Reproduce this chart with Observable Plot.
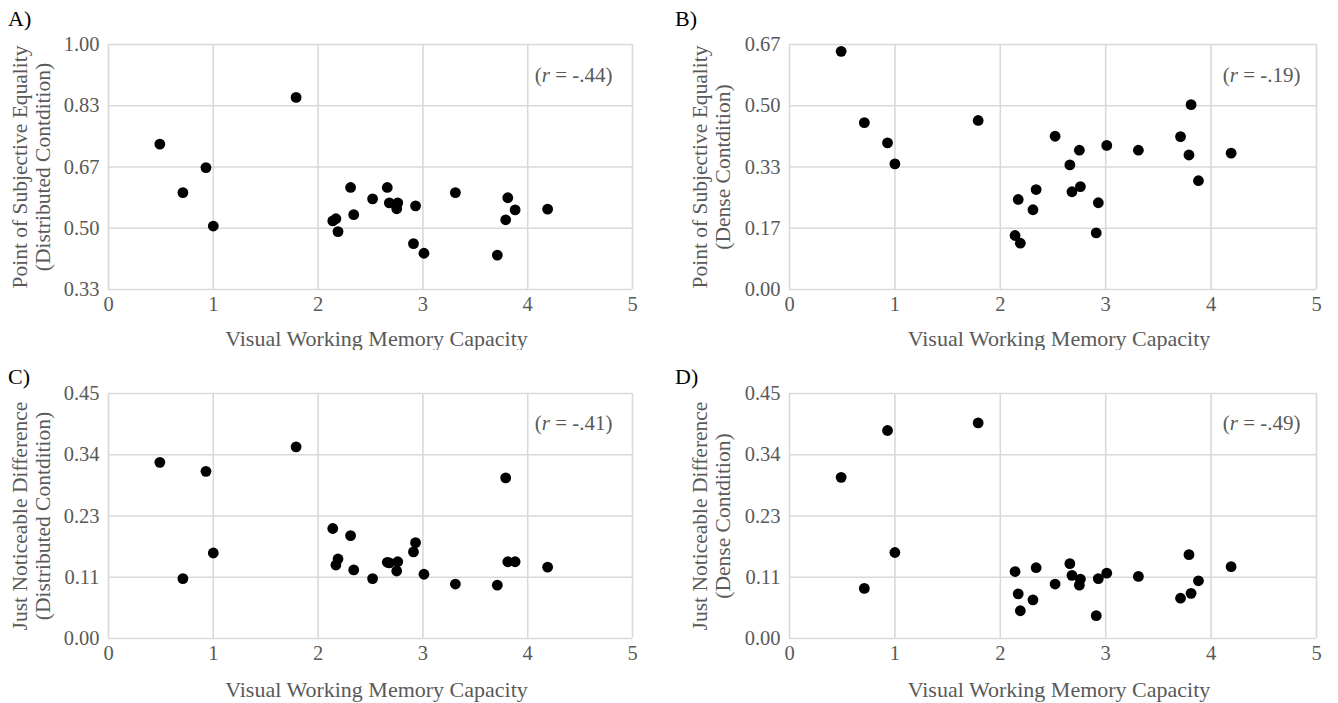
<!DOCTYPE html>
<html>
<head>
<meta charset="utf-8">
<script src="https://cdn.jsdelivr.net/npm/d3@7"></script>
<script src="https://cdn.jsdelivr.net/npm/@observablehq/plot@0.6"></script>
<style>
  body { margin: 0; background: #fff; }
  #wrap { position: relative; width: 1338px; height: 703px; background: #fff; overflow: hidden; }
  .panel { position: absolute; }
  .plabel { position: absolute; font-family: "Liberation Serif"; font-size: 22px; font-weight: normal; color: #000; line-height: 1.15; }
</style>
</head>
<body>
<div id="wrap"></div>
<script>
// ---- data ----
const capacity = [0.49, 0.71, 0.93, 1.00, 1.79, 2.14, 2.17, 2.19, 2.31, 2.34, 2.52, 2.66, 2.68, 2.75, 2.76, 2.91, 2.93, 3.01, 3.31, 3.71, 3.79, 3.81, 3.88, 4.19];
const pseDistributed = [0.729, 0.597, 0.665, 0.506, 0.856, 0.520, 0.526, 0.491, 0.611, 0.537, 0.580, 0.611, 0.569, 0.553, 0.569, 0.458, 0.561, 0.432, 0.597, 0.427, 0.523, 0.583, 0.550, 0.552];
const pseDense = [0.648, 0.454, 0.399, 0.342, 0.460, 0.147, 0.245, 0.126, 0.217, 0.272, 0.417, 0.339, 0.266, 0.379, 0.280, 0.154, 0.236, 0.392, 0.379, 0.416, 0.366, 0.503, 0.296, 0.371];
const jndDistributed = [0.3235, 0.110, 0.307, 0.157, 0.352, 0.202, 0.135, 0.146, 0.189, 0.126, 0.110, 0.140, 0.139, 0.124, 0.141, 0.159, 0.176, 0.118, 0.100, 0.098, 0.295, 0.141, 0.141, 0.131];
const jndDense = [0.296, 0.092, 0.382, 0.158, 0.396, 0.123, 0.082, 0.051, 0.071, 0.130, 0.100, 0.1375, 0.116, 0.098, 0.109, 0.042, 0.110, 0.120, 0.114, 0.074, 0.154, 0.083, 0.106, 0.132];

const xTicks = [0, 1, 2, 3, 4, 5];
const xTickLabels = ["0", "1", "2", "3", "4", "5"];
const pseDistTicks = [1/3, 1/2, 2/3, 5/6, 1];
const pseDistTickLabels = ["0.33", "0.50", "0.67", "0.83", "1.00"];
const pseDenseTicks = [0, 1/6, 1/3, 1/2, 2/3];
const pseDenseTickLabels = ["0.00", "0.17", "0.33", "0.50", "0.67"];
const jndTicks = [0, 0.1125, 0.225, 0.3375, 0.45];
const jndTickLabels = ["0.00", "0.11", "0.23", "0.34", "0.45"];

const xTitle = "Visual Working Memory Capacity";
const panelLetters = ["A)", "B)", "C)", "D)"];
const yTitles = [
  "Point of Subjective Equality\n(Distributed Contdition)",
  "Point of Subjective Equality\n(Dense Contdition)",
  "Just Noticeable Difference\n(Distributed Contdition)",
  "Just Noticeable Difference\n(Dense Contdition)"
];
const rValues = ["-.44", "-.19", "-.41", "-.49"];

// ---- drawing ----
const GRID = "#d9d9d9";
const TEXT = "#595959";
const FONT = "Liberation Serif";

function makePanel(cfg) {
  const data = capacity.map((x, i) => ({x, y: cfg.values[i]}));
  const fmtX = d => xTickLabels[xTicks.indexOf(d)];
  const fmtY = d => cfg.tickLabels[cfg.ticks.indexOf(d)];
  const svg = Plot.plot({
    width: cfg.width, height: cfg.height,
    marginLeft: cfg.ml, marginRight: cfg.mr, marginTop: cfg.mt, marginBottom: cfg.mb,
    style: {fontFamily: FONT, fontSize: "20px", color: TEXT, background: "white", overflow: "visible"},
    x: {domain: [0, 5]},
    y: {domain: [cfg.ticks[0], cfg.ticks[cfg.ticks.length - 1]]},
    marks: [
      Plot.gridX(xTicks, {stroke: GRID, strokeOpacity: 1, strokeWidth: 1.6}),
      Plot.gridY(cfg.ticks, {stroke: GRID, strokeOpacity: 1, strokeWidth: 1.6}),
      Plot.axisX(xTicks, {tickSize: 0, tickPadding: 7, tickFormat: fmtX, label: null, fill: TEXT, fontSize: 20.5}),
      Plot.axisY(cfg.ticks, {tickSize: 0, tickPadding: 9, tickFormat: fmtY, label: null, fill: TEXT, fontSize: 20.5}),
      Plot.dot(data, {x: "x", y: "y", r: 5.4, fill: "black", stroke: "none"}),
      Plot.text([cfg.yTitle], {text: d => d, frameAnchor: "left", rotate: -90, dx: cfg.yTitleDx, lineHeight: 1.05, textAnchor: "middle", lineAnchor: "middle", fill: TEXT, fontSize: 21.5, fontFamily: FONT}),
      Plot.text([xTitle], {text: d => d, frameAnchor: "bottom", dy: cfg.xTitleDy, dx: 6, textAnchor: "middle", lineAnchor: "middle", fill: TEXT, fontSize: 22, fontFamily: FONT}),
      Plot.text(["(r = " + cfg.r + ")"], {text: d => d, frameAnchor: "top-right", dx: cfg.rDx, dy: cfg.rDy, textAnchor: "end", lineAnchor: "middle", fill: TEXT, fontSize: 21, fontFamily: FONT})
    ]
  });
  // italicize the r
  d3.select(svg).selectAll("text").each(function() {
    const t = this.textContent;
    if (t.startsWith("(r = ")) {
      const el = d3.select(this);
      el.text(null);
      el.append("tspan").text("(");
      el.append("tspan").attr("font-style", "italic").text("r");
      el.append("tspan").text(t.slice(2));
    }
  });
  return svg;
}

const wrap = document.getElementById("wrap");
const panels = [
  {left: 0, top: 0, width: 669, height: 350, ml: 108, mr: 37, mt: 44, mb: 61, values: pseDistributed, ticks: pseDistTicks, tickLabels: pseDistTickLabels, yTitleDx: -77, xTitleDy: 49, rDx: -20, rDy: 31},
  {left: 669, top: 0, width: 669, height: 350, ml: 120, mr: 22, mt: 44, mb: 61, values: pseDense, ticks: pseDenseTicks, tickLabels: pseDenseTickLabels, yTitleDx: -78, xTitleDy: 49, rDx: -16, rDy: 31},
  {left: 0, top: 350, width: 669, height: 353, ml: 108, mr: 37, mt: 43, mb: 65, values: jndDistributed, ticks: jndTicks, tickLabels: jndTickLabels, yTitleDx: -77, xTitleDy: 51, rDx: -20, rDy: 30},
  {left: 669, top: 350, width: 669, height: 353, ml: 120, mr: 22, mt: 43, mb: 65, values: jndDense, ticks: jndTicks, tickLabels: jndTickLabels, yTitleDx: -78, xTitleDy: 51, rDx: -16, rDy: 30}
];
const labelPos = [[8, 6], [675, 6], [8, 364], [675, 364]];
panels.forEach((p, i) => {
  const div = document.createElement("div");
  div.className = "panel";
  div.style.left = p.left + "px";
  div.style.top = p.top + "px";
  div.appendChild(makePanel({...p, yTitle: yTitles[i], r: rValues[i]}));
  wrap.appendChild(div);
  const lab = document.createElement("div");
  lab.className = "plabel";
  lab.style.left = labelPos[i][0] + "px";
  lab.style.top = labelPos[i][1] + "px";
  lab.textContent = panelLetters[i];
  wrap.appendChild(lab);
});
</script>
</body>
</html>
